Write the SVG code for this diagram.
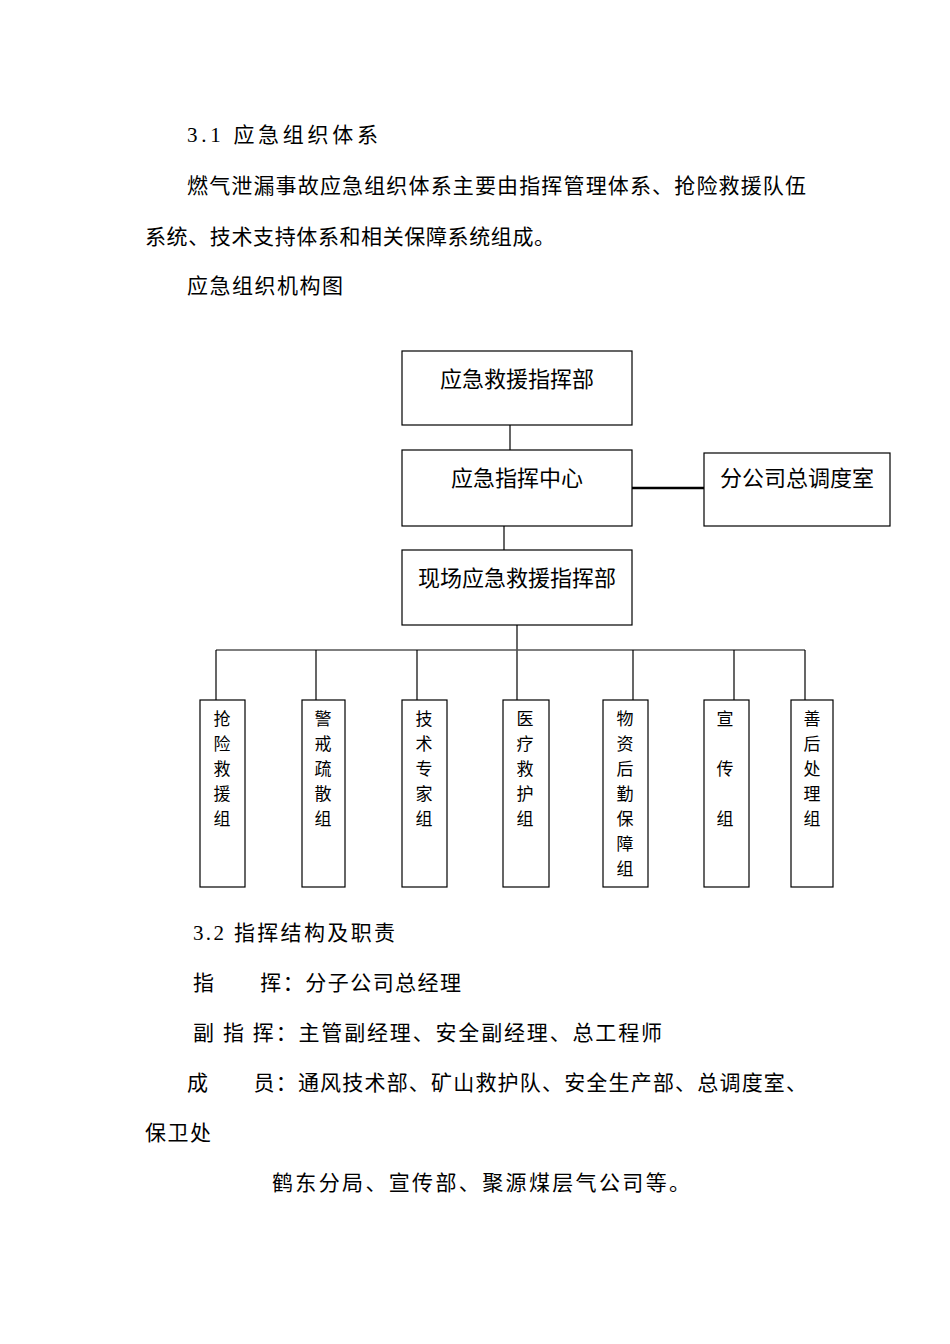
<svg xmlns="http://www.w3.org/2000/svg" width="950" height="1344" viewBox="0 0 950 1344">
<style>
text{font-family:"Liberation Serif","Noto Sans CJK SC",serif;fill:#000}
.p{font-size:21px}
.b{font-size:22px;text-anchor:middle}
.v{font-size:17px;text-anchor:middle}
rect{fill:#fff;stroke:#000;stroke-width:1.2}
line{stroke:#000;stroke-width:1.2}
</style>
<rect x="0" y="0" width="950" height="1344" style="stroke:none"/>
<text class="p" x="187" y="142" textLength="191">3.1 应急组织体系</text>
<text class="p" x="187" y="193" textLength="619">燃气泄漏事故应急组织体系主要由指挥管理体系、抢险救援队伍</text>
<text class="p" x="145" y="244" textLength="410">系统、技术支持体系和相关保障系统组成。</text>
<text class="p" x="187" y="293" textLength="156">应急组织机构图</text>
<g id="connectors">
<line x1="510" y1="425" x2="510" y2="450"/>
<line x1="504" y1="526" x2="504" y2="550"/>
<line x1="632" y1="488" x2="704" y2="488" style="stroke-width:2.5"/>
<line x1="517" y1="625" x2="517" y2="700"/>
<line x1="216" y1="650" x2="805" y2="650" style="stroke:#555;stroke-width:1.5"/>
<line x1="216" y1="650" x2="216" y2="700"/>
<line x1="316" y1="650" x2="316" y2="700"/>
<line x1="417" y1="650" x2="417" y2="700"/>
<line x1="633" y1="650" x2="633" y2="700"/>
<line x1="734" y1="650" x2="734" y2="700"/>
<line x1="805" y1="650" x2="805" y2="700"/>
</g>
<g id="n1"><rect x="402" y="351" width="230" height="74"/><text class="b" x="517" y="387">应急救援指挥部</text></g>
<g id="n2"><rect x="402" y="450" width="230" height="76"/><text class="b" x="517" y="486">应急指挥中心</text></g>
<g id="n3"><rect x="704" y="453" width="186" height="73"/><text class="b" x="797" y="486">分公司总调度室</text></g>
<g id="n4"><rect x="402" y="550" width="230" height="75"/><text class="b" x="517" y="586">现场应急救援指挥部</text></g>
<g id="g1"><rect x="200" y="700" width="45" height="187"/><text class="v" x="222"><tspan x="222" y="725">抢</tspan><tspan x="222" y="750">险</tspan><tspan x="222" y="775">救</tspan><tspan x="222" y="800">援</tspan><tspan x="222" y="825">组</tspan></text></g>
<g id="g2"><rect x="302" y="700" width="43" height="187"/><text class="v" x="323"><tspan x="323" y="725">警</tspan><tspan x="323" y="750">戒</tspan><tspan x="323" y="775">疏</tspan><tspan x="323" y="800">散</tspan><tspan x="323" y="825">组</tspan></text></g>
<g id="g3"><rect x="402" y="700" width="45" height="187"/><text class="v" x="424"><tspan x="424" y="725">技</tspan><tspan x="424" y="750">术</tspan><tspan x="424" y="775">专</tspan><tspan x="424" y="800">家</tspan><tspan x="424" y="825">组</tspan></text></g>
<g id="g4"><rect x="503" y="700" width="46" height="187"/><text class="v" x="525"><tspan x="525" y="725">医</tspan><tspan x="525" y="750">疗</tspan><tspan x="525" y="775">救</tspan><tspan x="525" y="800">护</tspan><tspan x="525" y="825">组</tspan></text></g>
<g id="g5"><rect x="603" y="700" width="45" height="187"/><text class="v" x="625"><tspan x="625" y="725">物</tspan><tspan x="625" y="750">资</tspan><tspan x="625" y="775">后</tspan><tspan x="625" y="800">勤</tspan><tspan x="625" y="825">保</tspan><tspan x="625" y="850">障</tspan><tspan x="625" y="875">组</tspan></text></g>
<g id="g6"><rect x="704" y="700" width="45" height="187"/><text class="v" x="725"><tspan x="725" y="725">宣</tspan><tspan x="725" y="775">传</tspan><tspan x="725" y="825">组</tspan></text></g>
<g id="g7"><rect x="791" y="700" width="42" height="187"/><text class="v" x="812"><tspan x="812" y="725">善</tspan><tspan x="812" y="750">后</tspan><tspan x="812" y="775">处</tspan><tspan x="812" y="800">理</tspan><tspan x="812" y="825">组</tspan></text></g>
<text class="p" x="193" y="940" textLength="202">3.2 指挥结构及职责</text>
<text class="p" x="193" y="990" textLength="268">指　　挥：分子公司总经理</text>
<text class="p" x="193" y="1040" textLength="469">副 指 挥：主管副经理、安全副经理、总工程师</text>
<text class="p" x="187" y="1090" textLength="620">成　　员：通风技术部、矿山救护队、安全生产部、总调度室、</text>
<text class="p" x="145" y="1140" textLength="66">保卫处</text>
<text class="p" x="272" y="1190" textLength="418">鹤东分局、宣传部、聚源煤层气公司等。</text>
</svg>
